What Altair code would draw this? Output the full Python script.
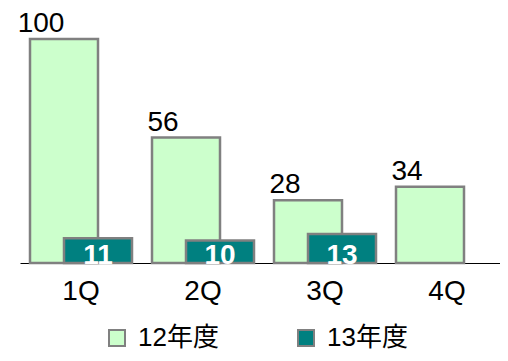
import altair as alt
import pandas as pd

quarters = ["1Q", "2Q", "3Q", "4Q"]
series = ["12年度", "13年度"]
fy12 = [100, 56, 28, 34]
fy13 = [11, 10, 13, None]
colors = ["#CCFFCC", "#008080"]

rows = []
for q, v in zip(quarters, fy12):
    rows.append({"q": q, "s": series[0], "v": v})
for q, v in zip(quarters, fy13):
    if v is not None:
        rows.append({"q": q, "s": series[1], "v": v})
df = pd.DataFrame(rows)

FONT = "Liberation Sans, Arial, 'Noto Sans CJK JP', sans-serif"

x = alt.X(
    "q:N",
    sort=quarters,
    scale=alt.Scale(paddingInner=0, paddingOuter=0, range=[0, 488]),
    axis=alt.Axis(
        title=None, labelAngle=0, labelFontSize=28, labelColor="black",
        labelFont=FONT, ticks=False, domainColor="black", domainWidth=1,
        labelPadding=14, grid=False,
    ),
)
y = alt.Y("v:Q", scale=alt.Scale(domain=[0, 100], nice=False, zero=True), axis=None)
color = alt.Color(
    "s:N",
    scale=alt.Scale(domain=series, range=colors),
    legend=alt.Legend(
        title=None, orient="none", legendX=84, legendY=286,
        direction="horizontal", symbolType="square", symbolSize=256,
        symbolStrokeColor="#808080", symbolStrokeWidth=2,
        labelFontSize=26, labelFont=FONT, labelColor="black",
        columnPadding=74, labelOffset=8, padding=0,
    ),
)

base = alt.Chart(df)

b12 = base.transform_filter(alt.datum.s == series[0]).mark_bar(
    width=68, xOffset=-17, stroke="#808080", strokeWidth=2.5
).encode(x=x, y=y, color=color)

b13 = base.transform_filter(alt.datum.s == series[1]).mark_bar(
    width=68, xOffset=17, stroke="#808080", strokeWidth=2.5
).encode(x=x, y=y, color=color)

t12 = base.transform_filter(alt.datum.s == series[0]).mark_text(
    dx=-40, dy=-7, baseline="alphabetic", fontSize=28, font=FONT, color="black"
).encode(x=x, y=y, text="v:Q")

t13 = base.transform_filter(alt.datum.s == series[1]).mark_text(
    dx=17, dy=1, baseline="alphabetic", fontSize=28, font=FONT,
    fontWeight="bold", color="white"
).encode(x=x, y=alt.datum(0), text="v:Q")

chart = alt.layer(b12, b13, t12, t13).properties(
    width=480, height=224,
    autosize=alt.AutoSizeParams(type="none"),
    padding={"left": 12, "top": 31, "right": 0, "bottom": 90},
    background="white",
).configure_view(stroke=None)

chart.save("out.html", embed_options={"renderer": "svg", "actions": False})
